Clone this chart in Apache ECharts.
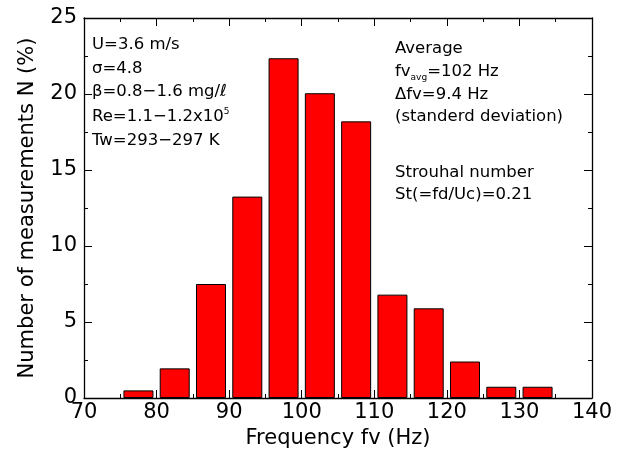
<!DOCTYPE html>
<html>
<head>
<meta charset="utf-8">
<script src="https://cdn.jsdelivr.net/npm/echarts@6/dist/echarts.min.js"></script>
<style>
  html, body { margin: 0; padding: 0; background: #fff; }
  #chart { width: 626px; height: 460px; }
</style>
</head>
<body>
<div id="chart"></div>
<script>
// bin centres (Hz) and percentage of measurements in each 5 Hz bin
var binCenters = [77.5, 82.5, 87.5, 92.5, 97.5, 102.5, 107.5, 112.5, 117.5, 122.5, 127.5, 132.5];
var percents = [0.5, 1.95, 7.5, 13.25, 22.35, 20.05, 18.2, 6.8, 5.9, 2.4, 0.74, 0.74];
var xTicks = [70, 80, 90, 100, 110, 120, 130, 140];
var yTicks = [0, 5, 10, 15, 20, 25];

var chart = echarts.init(document.getElementById("chart"));
var font = "DejaVu Sans, sans-serif";

var data = binCenters.map(function (c, i) { return [c, percents[i]]; });

function axisCommon(show, margin) {
  return {
    axisLine: { show: true, onZero: false, lineStyle: { color: "#000", width: 1.3 } },
    axisTick: { show: true, inside: true, length: 8, lineStyle: { color: "#000" } },
    minorTick: { show: true, splitNumber: 2, length: 4, lineStyle: { color: "#000" } },
    splitLine: { show: false },
    axisLabel: { show: show, color: "#000", fontSize: 21, fontFamily: font, margin: margin }
  };
}

var xMain = Object.assign(axisCommon(true, 4), {
  type: "value", min: xTicks[0], max: xTicks[xTicks.length - 1], interval: 10,
  position: "bottom",
  name: "Frequency fv (Hz)", nameLocation: "middle", nameGap: 28,
  nameTextStyle: { color: "#000", fontSize: 21, fontFamily: font }
});
var xTop = Object.assign(axisCommon(false, 4), {
  type: "value", min: xTicks[0], max: xTicks[xTicks.length - 1], interval: 10, position: "top"
});
var yMain = Object.assign(axisCommon(true, 7), {
  type: "value", min: yTicks[0], max: yTicks[yTicks.length - 1], interval: 5,
  position: "left",
  name: "Number of measurements N (%)", nameLocation: "middle", nameGap: 46,
  nameTextStyle: { color: "#000", fontSize: 21, fontFamily: font }
});
var yRight = Object.assign(axisCommon(false, 7), {
  type: "value", min: yTicks[0], max: yTicks[yTicks.length - 1], interval: 5, position: "right"
});

function label(x, y, text, rich) {
  return {
    type: "text", x: x, y: y,
    style: { text: text, rich: rich || {}, fill: "#000", fontSize: 16.5, fontFamily: font, verticalAlign: "middle" }
  };
}
var subSup = {
  sub: { fontSize: 9, fontFamily: font, fill: "#000", padding: [12, 0, 0, 0] },
  sup: { fontSize: 9, fontFamily: font, fill: "#000", padding: [0, 0, 10, 0] }
};

var option = {
  backgroundColor: "#fff",
  animation: false,
  grid: { left: 84, right: 34, top: 18, bottom: 62 },
  xAxis: [xMain, xTop],
  yAxis: [yMain, yRight],
  series: [{
    type: "bar",
    data: data,
    barWidth: 30,
    itemStyle: { color: "#ff0000", borderColor: "#000", borderWidth: 1 }
  }],
  graphic: [
    label(92, 45, "U=3.6 m/s"),
    label(92, 69, "σ=4.8"),
    label(92, 92, "β=0.8−1.6 mg/ℓ"),
    label(92, 117, "Re=1.1−1.2x10{sup|5}", subSup),
    label(92, 141, "Tw=293−297 K"),
    label(395, 49, "Average"),
    label(395, 72, "fv{sub|avg}=102 Hz", subSup),
    label(395, 95, "Δfv=9.4 Hz"),
    label(395, 117, "(standerd deviation)"),
    label(395, 173, "Strouhal number"),
    label(395, 195, "St(=fd/Uc)=0.21")
  ]
};
chart.setOption(option);
</script>
</body>
</html>
